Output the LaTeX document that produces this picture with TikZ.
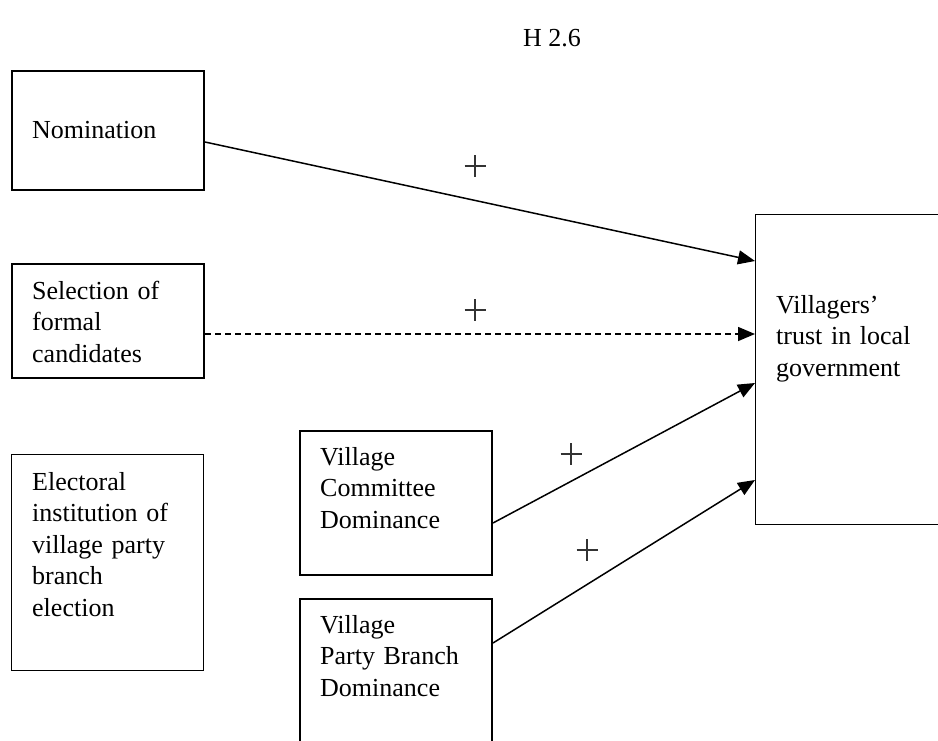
\documentclass[tikz,border=0pt]{standalone}
\usepackage{fontspec}
\setmainfont{Liberation Serif}
\usetikzlibrary{arrows.meta,calc}

\tikzset{
  frame/.style={draw=black, line width=2pt, fill=none, inner sep=0pt, anchor=north west},
  thinframe/.style={frame, line width=1.2pt},
  label/.style={anchor=base west, inner sep=0pt, text width=200pt, align=left,
    font=\fontsize{26}{31.5}\selectfont},
  link/.style={line width=1.5pt, -{Triangle[length=17pt,width=14pt]}},
  dashlink/.style={link, dash pattern=on 6pt off 4pt},
  plusmark/.style={line width=1.3pt, black!80}
}

\newcommand{\plussign}[1]{%
  \draw[plusmark] ($(#1)+(-10.5,0)$) -- ($(#1)+(10.5,0)$);
  \draw[plusmark] ($(#1)+(0,-11)$) -- ($(#1)+(0,11)$);}

\begin{document}
\begin{tikzpicture}[x=1pt,y=-1pt]
  \useasboundingbox (0,0) rectangle (938,740);
  \clip (0,0) rectangle (938,740);

  % title
  \node[label, text width=] (title) at (523,46) {H 2.6};

  % boxes
  \node[frame, minimum width=192pt, minimum height=119pt] (nom) at (11,70) {};
  \node[frame, minimum width=192pt, minimum height=114pt] (sel) at (11,263) {};
  \node[thinframe, minimum width=192pt, minimum height=216pt] (ele) at (11,454) {};
  \node[frame, minimum width=192pt, minimum height=144pt] (com) at (299,430) {};
  \node[frame, minimum width=192pt, minimum height=170pt] (pb) at (299,598) {};
  \node[thinframe, minimum width=200pt, minimum height=310pt] (vil) at (755,214) {};

  % texts
  \node[label] (tnom) at (32,138) {Nomination};
  \node[label] (tsel) at (32,299) {Selection of\\formal\\candidates};
  \node[label] (tele) at (32,490) {Electoral\\institution of\\village party\\branch\\election};
  \node[label] (tcom) at (320,465) {Village\\Committee\\Dominance};
  \node[label] (tpb) at (320,633) {Village\\Party Branch\\Dominance};
  \node[label] (tvil) at (776,313) {Villagers’\\trust in local\\government};

  % connector end points
  \coordinate (nomout) at ($(nom.north east)+(0,72)$);
  \coordinate (selout) at ($(sel.north east)+(0,71)$);
  \coordinate (comout) at ($(com.north east)+(0,93)$);
  \coordinate (pbout)  at ($(pb.north east)+(0,45)$);
  \coordinate (vilA) at ($(vil.north west)+(0,47)$);
  \coordinate (vilB) at ($(vil.north west)+(0,120)$);
  \coordinate (vilC) at ($(vil.north west)+(0,169)$);
  \coordinate (vilD) at ($(vil.north west)+(0,266)$);

  \draw[link] (nomout) -- (vilA);
  \draw[dashlink] (selout) -- (vilB);
  \draw[link] (comout) -- (vilC);
  \draw[link] (pbout) -- (vilD);

  % signs
  \coordinate (p1) at (475,166);
  \coordinate (p2) at (475,310);
  \coordinate (p3) at (571,454);
  \coordinate (p4) at (587,550);
  \plussign{p1}
  \plussign{p2}
  \plussign{p3}
  \plussign{p4}
\end{tikzpicture}
\end{document}
